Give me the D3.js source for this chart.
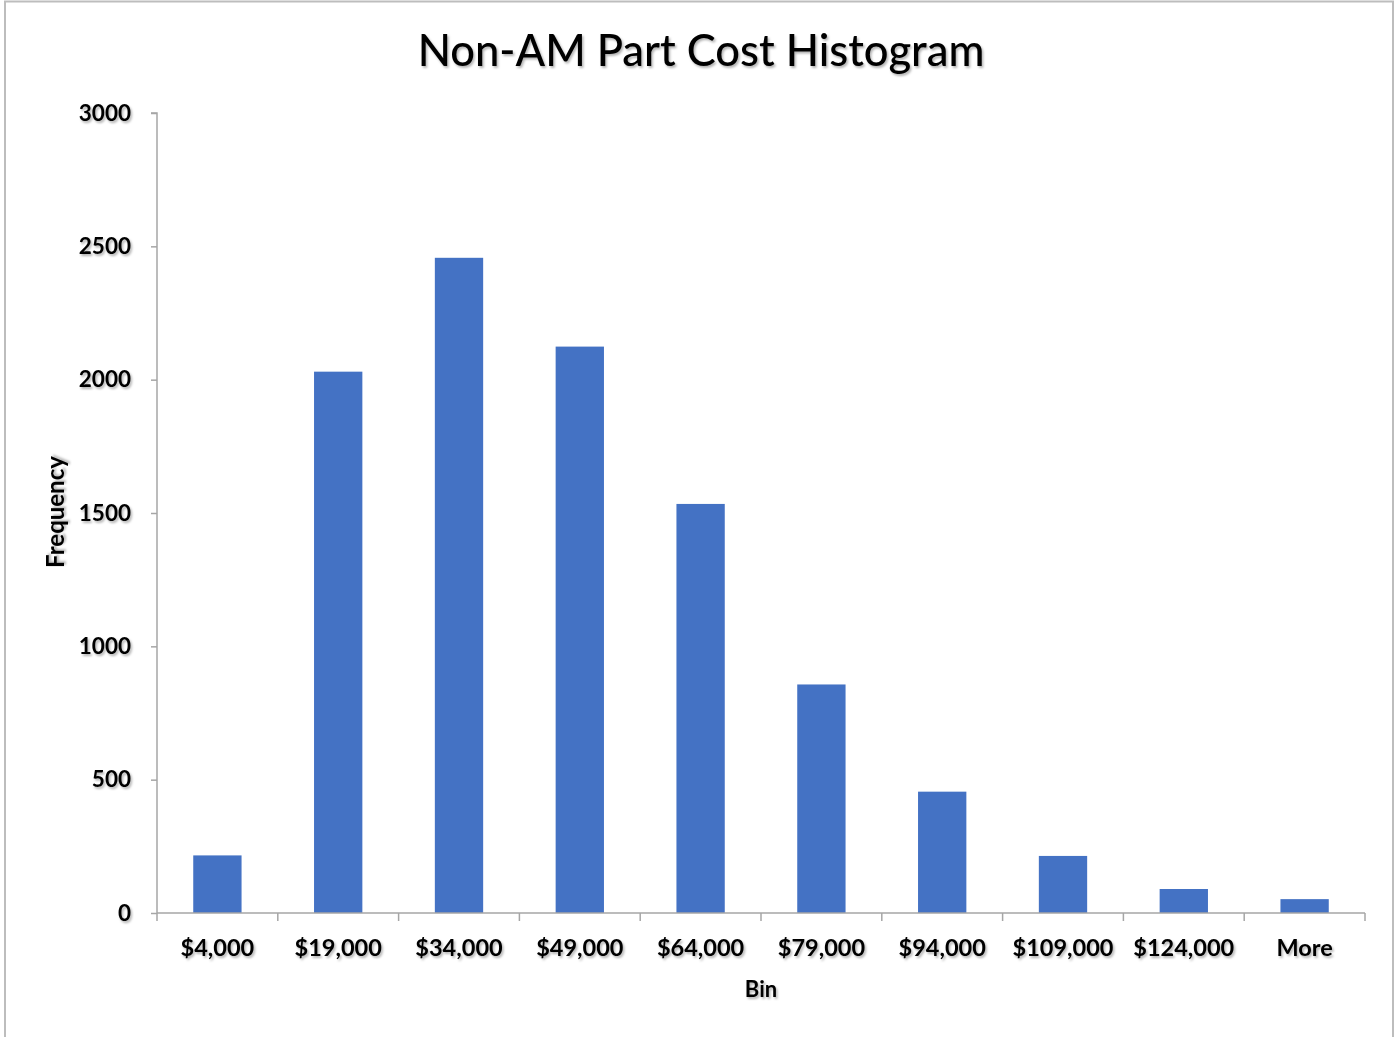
<!DOCTYPE html>
<html>
<head>
<meta charset="utf-8">
<script src="https://cdn.jsdelivr.net/npm/d3@7"></script>
<style>
  html, body { margin: 0; padding: 0; background: #fff; }
  svg text { font-family: Lato, "Open Sans", sans-serif; fill: #000; }
</style>
</head>
<body>
<svg id="chart" width="1395" height="1037"></svg>
<script>
// Histogram bins and counts
const bins = ["$4,000", "$19,000", "$34,000", "$49,000", "$64,000", "$79,000", "$94,000", "$109,000", "$124,000", "More"];
const frequency = [216, 2030, 2457, 2124, 1534, 857, 455, 214, 90, 52];
const yTicks = [0, 500, 1000, 1500, 2000, 2500, 3000];

const svg = d3.select("#chart");
const margin = { left: 157, top: 113 };
const plotW = 1365 - margin.left;
const plotH = 913 - margin.top;

// soft drop shadow used on all text
const defs = svg.append("defs");
const f = defs.append("filter").attr("id", "shadow").attr("x", "-10%").attr("y", "-20%").attr("width", "130%").attr("height", "160%");
f.append("feDropShadow").attr("dx", 1.5).attr("dy", 2).attr("stdDeviation", 1.2).attr("flood-color", "#000").attr("flood-opacity", 0.3);

// outer frame
svg.append("rect").attr("x", 5).attr("y", 1.5).attr("width", 1388).attr("height", 1040)
  .attr("fill", "none").attr("stroke", "#bdbdbd").attr("stroke-width", 2);

const g = svg.append("g").attr("transform", `translate(${margin.left},${margin.top})`);

const x = d3.scaleBand().domain(bins).range([0, plotW]).paddingInner(0.6).paddingOuter(0.3);
const xTicks = d3.scaleBand().domain(bins).range([0, plotW]);
const y = d3.scaleLinear().domain([0, 3000]).range([plotH, 0]);

// bars
g.selectAll("rect.bar").data(bins).join("rect")
  .attr("class", "bar")
  .attr("x", d => x(d))
  .attr("width", x.bandwidth())
  .attr("y", (d, i) => y(frequency[i]))
  .attr("height", (d, i) => plotH - y(frequency[i]))
  .attr("fill", "#4472c4");

// y axis
const yAxis = g.append("g").call(d3.axisLeft(y).tickValues(yTicks).tickSize(6).tickPadding(20).tickFormat(d3.format("d")));
yAxis.select(".domain").attr("stroke", "#a6a6a6").attr("stroke-width", 1.5).attr("d", `M-6,0H0V${plotH}`);
yAxis.selectAll(".tick line").attr("stroke", "#a6a6a6").attr("stroke-width", 1.5);
yAxis.selectAll(".tick text").attr("font-size", 22.5).attr("font-weight", 700)
  .attr("font-family", "Lato, sans-serif").attr("filter", "url(#shadow)");

// x axis: ticks at bin boundaries
const xg = g.append("g").attr("transform", `translate(0,${plotH})`);
xg.append("line").attr("x1", 0).attr("x2", plotW).attr("stroke", "#a6a6a6").attr("stroke-width", 1.5);
const edges = bins.map(b => xTicks(b)).concat([plotW]);
xg.selectAll("line.tk").data(edges).join("line").attr("class", "tk")
  .attr("x1", d => d).attr("x2", d => d).attr("y1", 0).attr("y2", 8)
  .attr("stroke", "#a6a6a6").attr("stroke-width", 1.5);
xg.selectAll("text.lbl").data(bins).join("text").attr("class", "lbl")
  .attr("x", d => xTicks(d) + xTicks.bandwidth() / 2)
  .attr("y", 43)
  .attr("text-anchor", "middle")
  .attr("font-size", 23.5).attr("font-weight", 700)
  .attr("filter", "url(#shadow)")
  .text(d => d);

// axis titles
svg.append("text").attr("x", 761).attr("y", 997).attr("text-anchor", "middle")
  .attr("font-size", 22).attr("font-weight", 700).attr("filter", "url(#shadow)").text("Bin");
svg.append("text").attr("transform", "translate(64,512) rotate(-90)").attr("text-anchor", "middle")
  .attr("font-size", 24).attr("font-weight", 700).attr("filter", "url(#shadow)").text("Frequency");

// chart title
svg.append("text").attr("x", 701).attr("y", 66).attr("text-anchor", "middle")
  .attr("font-size", 43.5).attr("font-weight", 500).attr("filter", "url(#shadow)")
  .text("Non-AM Part Cost Histogram");
</script>
</body>
</html>
